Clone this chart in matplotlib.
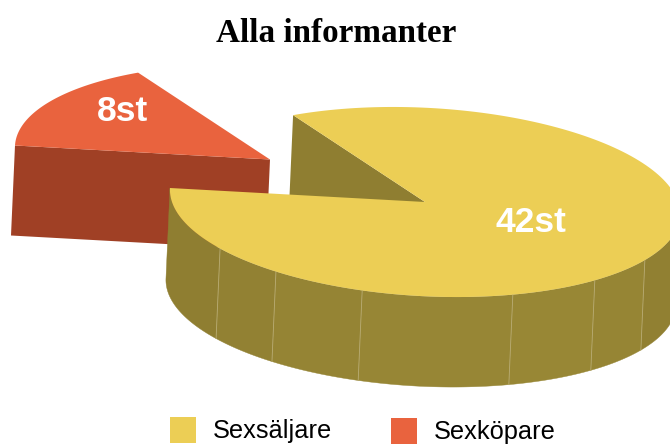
import numpy as np
import matplotlib.pyplot as plt
from matplotlib.patches import Polygon, Rectangle

# ------------------------
# Data
# ------------------------

labels = ["Sexsäljare", "Sexköpare"]
counts = [42, 8]
value_labels = ["42st", "8st"]
title = "Alla informanter"

# facet seams on the outer wall, pie degrees
seam_angles = [217.8, 235.5, 257, 291.4, 313, 330.8]

# ------------------------
# Colours and geometry (pixels)
# ------------------------

YELLOW = "#ECCE55"
RED = "#E9633E"
RED_DARK = "#A04025"
OLIVE_SHADES = ["#8F7E31", "#928133", "#958434", "#978635", "#988735", "#968534", "#918032", "#8B7A2F"]
SEAM = "#B8AB72"

centre = np.array([425.0, 202.0])
axis_a = np.array([255.0, 14.0])
axis_b = np.array([5.6, -94.0])
depth = np.array([-4.0, 90.0])
explode = np.array([-155.0, -42.5])
start_angle = 180.0

fig = plt.figure(figsize=(6.7, 4.44), dpi=100)
ax = fig.add_axes([0, 0, 1, 1])
ax.set_xlim(0, 670)
ax.set_ylim(444, 0)
ax.axis("off")


def rim(deg, c):
    t = np.radians(deg)
    return c + np.outer(np.cos(t), axis_a) + np.outer(np.sin(t), axis_b)


# ------------------------
# Slice angles from the counts
# ------------------------

big_sweep = 360.0 * counts[0] / sum(counts)
big_end = start_angle + big_sweep
big_angles = np.linspace(start_angle, big_end, 200)
small_angles = np.linspace(big_end, start_angle + 360.0, 60)

# ------------------------
# Exploded small slice
# ------------------------

small_c = centre + explode
left = rim([small_angles[-1]], small_c)[0]
ax.add_patch(Polygon([left, small_c, small_c + depth, left + depth], fc=RED_DARK, ec="none", zorder=1))
ax.add_patch(Polygon(np.vstack([small_c, rim(small_angles, small_c)]), fc=RED, ec="none", zorder=2))

# ------------------------
# Large slice: cut face, outer wall, top
# ------------------------

back = rim([big_end], centre)[0]
ax.add_patch(Polygon([back, centre, centre + depth, back + depth], fc="#8F7E31", ec="none", zorder=3))

edges = [start_angle] + seam_angles + [365.0]
for i in range(len(edges) - 1):
    a = np.linspace(edges[i], edges[i + 1], 60)
    top = rim(a, centre)
    wall = np.vstack([top, (top + depth)[::-1]])
    ax.add_patch(Polygon(wall, fc=OLIVE_SHADES[i], ec=OLIVE_SHADES[i], lw=0.3, zorder=4))

for s in seam_angles:
    p = rim([s], centre)[0]
    ax.plot([p[0], p[0] + depth[0]], [p[1], p[1] + depth[1]], color=SEAM, lw=0.6, zorder=5)

ax.add_patch(Polygon(np.vstack([centre, rim(big_angles, centre)]), fc=YELLOW, ec="none", zorder=6))

# ------------------------
# Text
# ------------------------

ax.text(336.5, 34, title, ha="center", va="center", fontsize=23.9, fontweight="bold",
        family="Liberation Serif", color="black", zorder=7)
ax.text(531, 222, value_labels[0], ha="center", va="center", fontsize=25.5, fontweight="bold",
        family="Liberation Sans", color="white", zorder=7)
ax.text(123, 111, value_labels[1], ha="center", va="center", fontsize=25.5, fontweight="bold",
        family="Liberation Sans", color="white", zorder=7)

# ------------------------
# Legend
# ------------------------

ax.add_patch(Rectangle((170, 417), 26, 26, fc=YELLOW, ec="none", zorder=7))
ax.add_patch(Rectangle((391, 418), 26, 26, fc=RED, ec="none", zorder=7))
ax.text(213, 431, labels[0], ha="left", va="center", fontsize=18.3, family="Liberation Sans", color="black")
ax.text(434, 432, labels[1], ha="left", va="center", fontsize=18.3, family="Liberation Sans", color="black")

fig.savefig("out.png", dpi=100)
